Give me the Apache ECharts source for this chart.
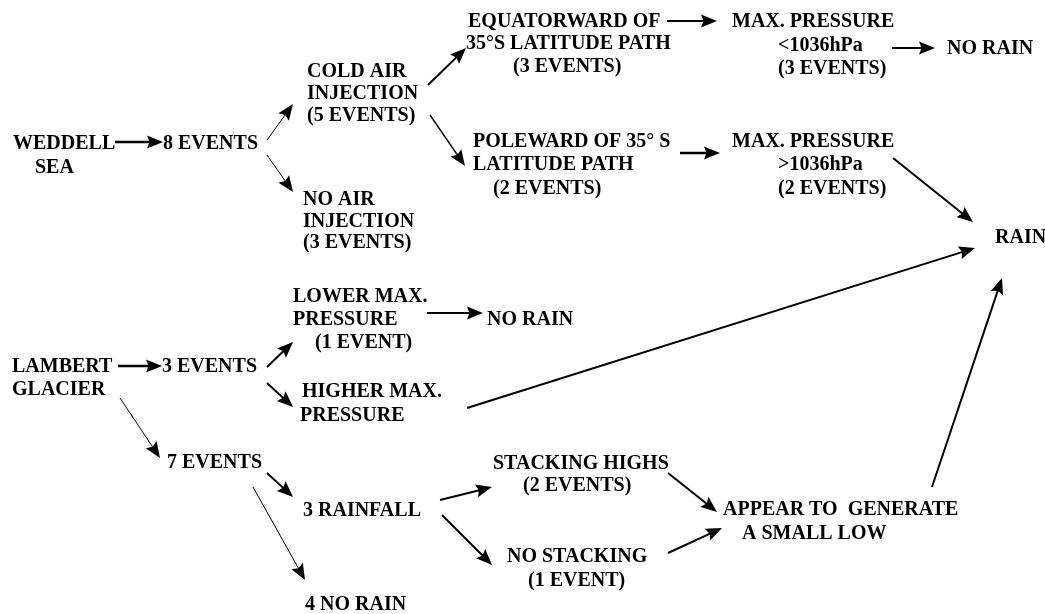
<!DOCTYPE html>
<html>
<head>
<meta charset="utf-8">
<title>Weddell Sea / Lambert Glacier event flow</title>
<script src="https://cdn.jsdelivr.net/npm/echarts@6/dist/echarts.min.js"></script>
<style>
  html, body { margin: 0; padding: 0; background: #fff; }
  #chart { width: 1045px; height: 614px; }
</style>
</head>
<body>
<div id="chart"></div>
<script>
// text lines of the flow diagram, with their place in diagram units (left edge, middle)
var lineText = [
  'WEDDELL', 'SEA', '8 EVENTS',
  'COLD AIR', 'INJECTION', '(5 EVENTS)',
  'NO AIR', 'INJECTION', '(3 EVENTS)',
  'EQUATORWARD OF', '35°S LATITUDE PATH', '(3 EVENTS)',
  'MAX. PRESSURE', '<1036hPa', '(3 EVENTS)', 'NO RAIN',
  'POLEWARD OF 35° S', 'LATITUDE PATH', '(2 EVENTS)',
  'MAX. PRESSURE', '>1036hPa', '(2 EVENTS)', 'RAIN',
  'LOWER MAX.', 'PRESSURE', '(1 EVENT)', 'NO RAIN',
  'LAMBERT', 'GLACIER', '3 EVENTS',
  'HIGHER MAX.', 'PRESSURE',
  '7 EVENTS', '3 RAINFALL', '4 NO RAIN',
  'STACKING HIGHS', '(2 EVENTS)', 'NO STACKING', '(1 EVENT)',
  'APPEAR TO  GENERATE', 'A SMALL LOW'
];
var lineX = [
  13, 35, 163,
  307, 307, 307,
  303, 303, 303,
  468, 466, 513,
  732, 778, 778, 947,
  473, 473, 493,
  732, 778, 778, 995,
  293, 293, 315, 487,
  12, 12, 162,
  302, 300,
  167, 303, 305,
  493, 523, 507, 528,
  723, 742
];
var lineY = [
  142, 166, 142,
  70, 92, 114,
  198, 220, 241,
  20, 42, 65,
  20, 44, 67, 47,
  140, 163, 187,
  140, 163, 187, 236,
  295, 318, 341, 318,
  365, 388, 365,
  390, 414,
  461, 509, 603,
  462, 484, 555, 579,
  508, 532
];

// arrows: tail and tip in diagram units
var arrowFrom = [
  [115, 142], [267, 140], [267, 155], [428, 85], [430, 115],
  [667, 21], [892, 48], [680, 153], [893, 158], [467, 408],
  [427, 313], [118, 366], [267, 367], [267, 383], [120, 398],
  [267, 473], [253, 487], [440, 500], [442, 515], [668, 473],
  [668, 553], [932, 487]
];
var arrowTo = [
  [163, 142], [293, 104], [293, 192], [466, 48], [465, 166],
  [717, 21], [935, 48], [720, 153], [973, 222], [975, 248],
  [483, 313], [162, 366], [293, 342], [293, 407], [160, 458],
  [293, 497], [305, 580], [492, 487], [492, 565], [717, 512],
  [722, 528], [1002, 278]
];
var arrowStroke = [
  2.5, 1, 1, 2, 1.5,
  2, 2, 2.5, 2, 2,
  2, 2.5, 2, 2, 1,
  2, 1, 2, 2, 2,
  2, 2
];

var textData = lineText.map(function (t, i) {
  return [lineX[i], lineY[i]];
});
var arrowData = arrowFrom.map(function (p, i) {
  return [p[0], p[1], arrowTo[i][0], arrowTo[i][1]];
});

var myechart = echarts.init(document.getElementById('chart'));

myechart.setOption({
  backgroundColor: '#ffffff',
  animation: false,
  grid: { left: 0, right: 0, top: 0, bottom: 0 },
  xAxis: { type: 'value', min: 0, max: 1045, show: false },
  yAxis: { type: 'value', min: 0, max: 614, inverse: true, show: false },
  series: [
    {
      type: 'custom',
      name: 'arrows',
      clip: false,
      silent: true,
      data: arrowData,
      encode: { x: [0, 2], y: [1, 3] },
      renderItem: function (params, api) {
        var a = api.coord([api.value(0), api.value(1)]);
        var b = api.coord([api.value(2), api.value(3)]);
        var dx = b[0] - a[0], dy = b[1] - a[1];
        var len = Math.sqrt(dx * dx + dy * dy);
        var ux = dx / len, uy = dy / len;
        var headLen = 16, headHalf = 6.5, notch = 2.5;
        var bx = b[0] - ux * headLen, by = b[1] - uy * headLen;
        return {
          type: 'group',
          children: [
            {
              type: 'line',
              shape: { x1: a[0], y1: a[1], x2: bx + ux * 4, y2: by + uy * 4 },
              style: { stroke: '#000', lineWidth: arrowStroke[params.dataIndex] }
            },
            {
              type: 'polygon',
              shape: {
                points: [
                  [b[0], b[1]],
                  [bx - uy * headHalf, by + ux * headHalf],
                  [bx + ux * notch, by + uy * notch],
                  [bx + uy * headHalf, by - ux * headHalf]
                ]
              },
              style: { fill: '#000' }
            }
          ]
        };
      }
    },
    {
      type: 'custom',
      name: 'labels',
      clip: false,
      silent: true,
      data: textData,
      encode: { x: 0, y: 1 },
      renderItem: function (params, api) {
        var p = api.coord([api.value(0), api.value(1)]);
        // canvas 'middle' sits a little above the cap centre
        return {
          type: 'text',
          x: p[0],
          y: p[1] + 2,
          style: {
            text: lineText[params.dataIndex],
            fill: '#000',
            font: 'bold 20px "Liberation Serif", "DejaVu Serif", serif',
            align: 'left',
            verticalAlign: 'middle'
          }
        };
      }
    }
  ]
});
</script>
</body>
</html>
